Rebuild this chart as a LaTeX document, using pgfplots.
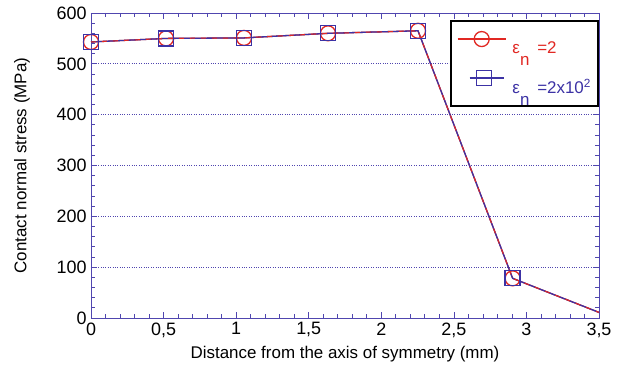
\documentclass[border=0pt]{standalone}
\usepackage{pgfplots}
\pgfplotsset{compat=1.18}
\usepackage{fontspec}
\setmainfont{Liberation Sans}
\definecolor{myred}{RGB}{225,40,35}
\definecolor{myblue}{RGB}{60,50,165}
\definecolor{axcol}{RGB}{80,70,175}
\pgfplotstableread{
x y
0 543
0.517 550
1.054 551
1.633 560
2.253 565
2.905 78
3.5 11
}\datatable
\begin{document}
\begin{tikzpicture}
\begin{axis}[
  scale only axis,
  width=508bp, height=305bp,
  at={(0,0)}, anchor=south west,
  xmin=0, xmax=3.5, ymin=0, ymax=600,
  xtick={0,0.5,...,3.5},
  ytick={0,100,...,600},
  minor x tick num=4,
  minor y tick num=4,
  tick align=inside,
  major tick length=6bp,
  minor tick length=4bp,
  axis line style={axcol, line width=0.9pt},
  every tick/.style={axcol, line width=0.7pt},
  ymajorgrids,
  major grid style={axcol, dotted, line width=0.9pt},
  /pgf/number format/.cd, use comma, assume math mode=true, /pgfplots/.cd,
  tick label style={font=\fontsize{18}{21}\selectfont, black},
  xticklabel style={yshift=-1bp},
  yticklabel style={xshift=-1bp},
  label style={font=\fontsize{17}{20}\selectfont, black},
  xlabel={Distance from the axis of symmetry (mm)},
  ylabel={Contact normal stress (MPa)},
  xlabel style={at={(axis description cs:0.5,-0.118)}, anchor=center},
  ylabel style={at={(axis description cs:-0.136,0.5)}, anchor=center},
  legend style={at={(rel axis cs:0.707,0.977)}, anchor=north west,
    draw=black, line width=1.8pt, fill=white,
    font=\fontsize{17}{20}\selectfont,
    inner xsep=6bp, inner ysep=10bp,
    row sep=14bp, nodes={inner sep=1bp}},
  legend cell align=left,
]
\addplot[myred, line width=1.3pt, mark=o, mark size=7.5bp, mark indices={1,...,6}, mark options={solid, line width=1.3pt},
  legend image code/.code={
    \draw[myred, line width=1.3pt] (2bp,9bp) -- (50bp,9bp);
    \draw[myred, line width=1.3pt] (26bp,9bp) circle[radius=7.5bp];
  }]
  table[x=x, y=y] {\datatable};
\addlegendentry{\textcolor{myred}{\kern5bp ε\kern0.02em\raisebox{-0.72em}{n}\kern0.45em=2}}
\addplot[myblue, line width=1.3pt, mark=square, mark size=7.5bp, mark indices={1,...,6}, mark options={solid, line width=1.3pt},
  legend image code/.code={
    \draw[myblue, line width=1.3pt] (14bp,9bp) -- (48bp,9bp);
    \draw[myblue, line width=1.3pt] (20.5bp,1.5bp) rectangle (35.5bp,16.5bp);
  }]
  table[x=x, y=y] {\datatable};
\addlegendentry{\textcolor{myblue}{\kern5bp ε\kern0.02em\raisebox{-0.72em}{n}\kern0.45em=2x10\textsuperscript{2}}}
\addplot[myred, line width=1.0pt, dash pattern=on 5bp off 6bp, forget plot]
  table[x=x, y=y] {\datatable};
\end{axis}
\pgfresetboundingbox
\path (-91bp,-59bp) rectangle (539bp,318bp);
\end{tikzpicture}
\end{document}
